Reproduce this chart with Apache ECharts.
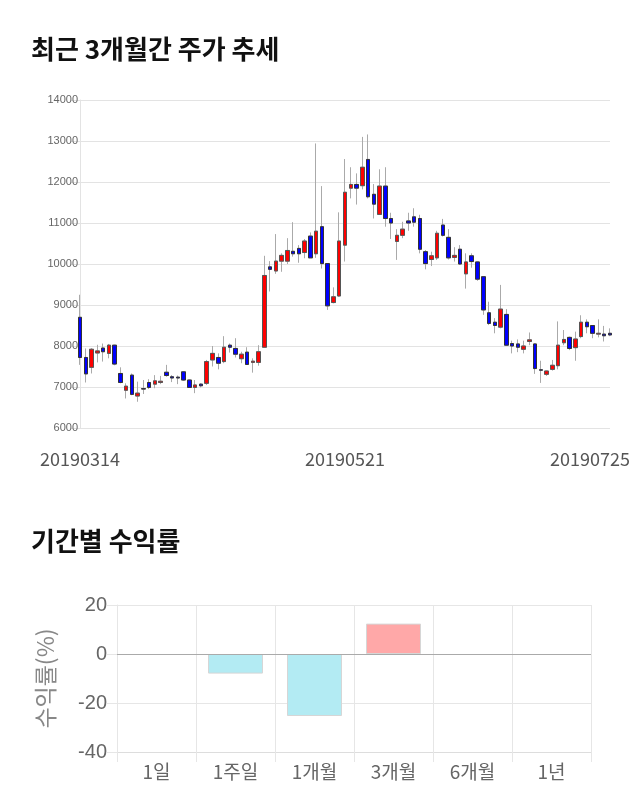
<!DOCTYPE html>
<html><head><meta charset="utf-8">
<script src="https://cdn.jsdelivr.net/npm/echarts@6/dist/echarts.min.js"></script>
<style>html,body{margin:0;padding:0;background:#fff}#c{width:640px;height:810px}</style>
</head><body><div id="c"></div>
<script>
var dates = ['20190314','20190315','20190318','20190319','20190320','20190321','20190322','20190325','20190326','20190327','20190328','20190329',
'20190401','20190402','20190403','20190404','20190405','20190408','20190409','20190410','20190411','20190412','20190415','20190416','20190417','20190418','20190419','20190422','20190423','20190424','20190425','20190426','20190429','20190430',
'20190502','20190503','20190507','20190508','20190509','20190510','20190513','20190514','20190515','20190516','20190517','20190520','20190521','20190522','20190523','20190524','20190527','20190528','20190529','20190530','20190531',
'20190603','20190604','20190605','20190607','20190610','20190611','20190612','20190613','20190614','20190617','20190618','20190619','20190620','20190621','20190624','20190625','20190626','20190627','20190628',
'20190701','20190702','20190703','20190704','20190705','20190708','20190709','20190710','20190711','20190712','20190715','20190716','20190717','20190718','20190719','20190722','20190723','20190724','20190725'];
var openP  = [8700,7720,7480,7830,7950,7820,8020,7330,6920,7290,6780,6960,7110,7070,7110,7360,7250,7240,7370,7170,6990,7070,7090,7660,7720,7620,8020,7940,7690,7850,7600,7600,7970,9930,9830,10070,10070,10310,10380,10280,10680,10250,10910,10010,9060,9220,10460,11850,11940,11910,12550,11700,11210,11900,11110,10550,10700,11050,11150,11110,10300,10110,10150,10950,10650,10160,10360,9760,10200,10050,9690,8810,8580,8460,8770,8060,8050,7920,8110,8050,7420,7310,7430,7520,8080,8210,7960,8230,8580,8500,8290,8290,8310];
var closeP = [7720,7320,7920,7880,7860,8020,7560,7110,7020,6820,6850,6950,6990,7150,7140,7280,7220,7220,7170,6990,7050,7030,7620,7820,7580,7970,7970,7800,7800,7550,7630,7860,9720,9870,10070,10210,10330,10250,10250,10560,10150,10800,10010,8980,9200,10560,11750,11940,11850,12360,11640,11460,11900,11110,11000,10700,10850,11000,11020,10360,10010,10200,10750,10700,10150,10210,10000,10050,10060,9630,8880,8550,8500,8900,8020,8000,7970,8000,8150,7450,7410,7390,7530,8020,8160,7940,8170,8580,8470,8310,8310,8250,8270];
var lowP   = [7540,7110,7330,7600,7620,7700,7530,7090,6720,6800,6640,6830,6950,6970,7070,7250,7120,7070,7150,6980,6850,6990,7050,7500,7430,7580,7840,7720,7580,7540,7350,7520,7960,9330,9760,9810,10000,10180,10030,10140,10150,10150,9890,8880,9040,9200,10060,11600,11450,11820,11600,11110,11200,10910,10610,10100,10630,10810,10910,10260,9870,9950,10100,10670,10110,10060,9980,9400,9910,9590,8760,8510,8310,8430,8000,7820,7850,7820,8020,7320,7100,7270,7400,7430,8020,7900,7640,8190,8310,8190,8210,8110,8240];
var highP  = [9250,7940,7950,8030,8060,8050,8030,7480,7090,7330,7130,7170,7190,7290,7270,7540,7290,7280,7390,7180,7170,7090,7660,8000,7820,8240,8060,8190,7860,7970,7700,8020,10200,10070,10730,10260,10630,11020,10460,10610,10770,12940,11900,10010,9430,11260,12560,12360,12210,13100,13160,11950,12310,12360,11250,10850,11030,11250,11360,11200,10340,10300,10810,11100,10850,10410,10460,10260,10260,10060,9700,9080,8680,9490,8900,8130,8160,8130,8330,8060,7640,7400,7660,8600,8390,8230,8350,8750,8650,8510,8650,8490,8430];

var periods = ['1일','1주일','1개월','3개월','6개월','1년'];
var returns = [0,-8.0,-25.3,12.4,null,null];

var priceMin = 6000, priceMax = 14000, priceStep = 1000;
var retMin = -40, retMax = 20, retStep = 20;

var wickData = dates.map(function(d,i){ return [openP[i], closeP[i], lowP[i], highP[i]]; });
var bodyData = dates.map(function(d,i){ return [openP[i], closeP[i], Math.min(openP[i],closeP[i]), Math.max(openP[i],closeP[i])]; });
var barData = returns.map(function(v){
  if (v === null) return null;
  return {value: v, itemStyle: {color: v >= 0 ? '#ffa8a8' : '#b3ebf3', borderWidth: v === 0 ? 0 : 1}};
});
var lastIdx = dates.length - 1;

var chart = echarts.init(document.getElementById('c'), null, {renderer:'canvas'});
chart.setOption({
  animation: false,
  backgroundColor: '#fff',
  title: [
    {text:'최근 3개월간 주가 추세', left: 31, top: 36, padding: 0,
     textStyle:{fontFamily:'Noto Sans CJK KR', fontSize: 26, fontWeight:'bold', color:'#111'}},
    {text:'기간별 수익률', left: 31, top: 528, padding: 0,
     textStyle:{fontFamily:'Noto Sans CJK KR', fontSize: 26, fontWeight:'bold', color:'#111'}}
  ],
  grid: [
    {left: 80, right: 30, top: 100, bottom: 382},
    {left: 117, right: 49, top: 605, bottom: 58}
  ],
  xAxis: [
    {type:'category', gridIndex:0, data: dates, boundaryGap:false,
     axisLine:{show:false}, axisTick:{show:false}, splitLine:{show:false},
     axisLabel:{margin: 22, fontSize: 18, color:'#555', fontFamily:'Noto Sans CJK KR',
       interval: function(i){ return i===0 || i===46 || i===lastIdx; },
       formatter: function(v, i){ return i===lastIdx ? '{last|'+v+'}' : v; },
       rich:{last:{fontSize:18, color:'#555', fontFamily:'Noto Sans CJK KR', padding:[0,40,0,0]}}}},
    {type:'category', gridIndex:1, data: periods,
     axisLine:{show:true, onZero:false, lineStyle:{color:'#ddd'}},
     axisTick:{show:true, length:10, lineStyle:{color:'#e6e6e6'}},
     splitLine:{show:true, lineStyle:{color:'#e6e6e6'}},
     axisLabel:{margin: 10, fontSize: 19, color:'#666', fontFamily:'Noto Sans CJK KR'}}
  ],
  yAxis: [
    {type:'value', gridIndex:0, min: priceMin, max: priceMax, interval: priceStep,
     axisLine:{show:true, lineStyle:{color:'#e3e3e3'}},
     axisTick:{show:true, length:10, lineStyle:{color:'#e3e3e3'}},
     splitLine:{lineStyle:{color:'#e3e3e3'}},
     axisLabel:{margin: 2, fontSize: 11, color:'#666', fontFamily:'Liberation Sans',
       formatter: function(v){ return String(v); }}},
    {type:'value', gridIndex:1, min: retMin, max: retMax, interval: retStep,
     name:'수익률(%)', nameLocation:'middle', nameGap: 60, nameRotate: 90,
     nameTextStyle:{fontSize: 23, color:'#888', fontFamily:'Noto Sans CJK KR'},
     axisLine:{show:true, lineStyle:{color:'#e6e6e6'}},
     axisTick:{show:true, length:10, lineStyle:{color:'#e6e6e6'}},
     splitLine:{lineStyle:{color:'#e6e6e6'}},
     axisLabel:{margin: 10, fontSize: 20, color:'#666', fontFamily:'Liberation Sans'}}
  ],
  series: [
    {type:'candlestick', xAxisIndex:0, yAxisIndex:0, data: wickData, barWidth: 4,
     itemStyle:{color:'#999', color0:'#999', borderColor:'#aaa', borderColor0:'#aaa', borderColorDoji:'#aaa', borderWidth:1}},
    {type:'candlestick', xAxisIndex:0, yAxisIndex:0, data: bodyData, barWidth: 4,
     itemStyle:{color:'#ff0000', color0:'#0000ff', borderColor:'#555', borderColor0:'#333', borderColorDoji:'#444', borderWidth:1}},
    {type:'bar', xAxisIndex:1, yAxisIndex:1, data: barData, barWidth: 55,
     itemStyle:{borderColor:'#d6d6d6', borderWidth:1},
     markLine:{silent:true, symbol:'none', label:{show:false}, lineStyle:{color:'#aaa', type:'solid', width:1},
       data:[{yAxis:0}]}}
  ]
});
</script></body></html>
